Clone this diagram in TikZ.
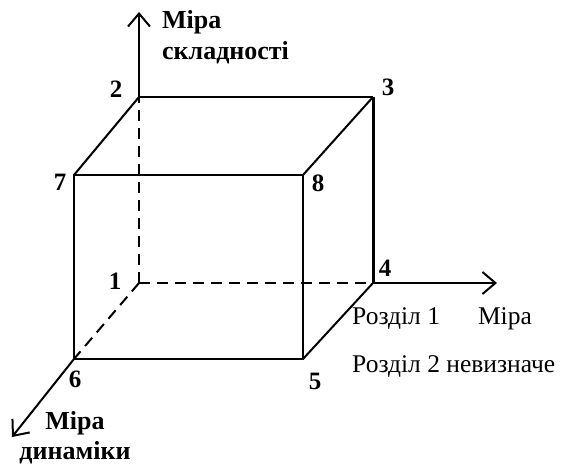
\documentclass[tikz,border=0pt]{standalone}
\usepackage{fontspec}
\setmainfont{Liberation Serif}
\usetikzlibrary{arrows.meta,positioning}

\begin{document}
\begin{tikzpicture}[
x=1pt,y=-1pt,
edge/.style={line width=2pt},
hidden/.style={line width=2pt,dash pattern=on 11pt off 7pt},
axis/.style={line width=2pt,-{Straight Barb[length=13pt,width=22pt,line width=2pt]}},
num/.style={font=\fontsize{25}{28}\selectfont\bfseries,inner sep=0pt},
axlabel/.style={font=\fontsize{26}{31}\selectfont\bfseries,inner sep=0pt},
note/.style={font=\fontsize{25.5}{28}\selectfont,inner sep=0pt,anchor=base west}
]
\useasboundingbox (0,0) rectangle (566,468);
\coordinate (v1) at (139,283);
\coordinate (v2) at (139,97);
\coordinate (v3) at (373,97);
\coordinate (v4) at (373,283);
\coordinate (v5) at (303,359);
\coordinate (v6) at (74,359);
\coordinate (v7) at (74,175);
\coordinate (v8) at (303,175);
\coordinate (tipz) at (139,12);
\coordinate (tipx) at (497,283);
\coordinate (tipy) at (12,437);
\draw[hidden] (v1) -- (v2);
\draw[hidden] (v1) -- (v4);
\draw[hidden] (v1) -- (v6);
\draw[edge] (v2) -- (v3);
\draw[edge,line width=3pt] (v3) -- (v4);
\draw[edge] (v2) -- (v7);
\draw[edge] (v3) -- (v8);
\draw[edge] (v4) -- (v5);
\draw[edge] (v7) -- (v8) -- (v5) -- (v6) -- cycle;
\draw[axis] (v2) -- (tipz);
\draw[axis] (v4) -- (tipx);
\draw[axis] (v6) -- (tipy);
\node[num] (n1) at (115,281) {1};
\node[num] (n2) at (116,89) {2};
\node[num] (n3) at (388,87) {3};
\node[num] (n4) at (385,268) {4};
\node[num] (n5) at (315,381) {5};
\node[num] (n6) at (75,379) {6};
\node[num] (n7) at (60,182) {7};
\node[num] (n8) at (318,183) {8};
\node[axlabel,align=left,anchor=base west] (zlab) at (162,60) {Міра\\складності};
\node[axlabel,align=center,anchor=base] (ylab) at (75,460) {Міра\\динаміки};
\node[note] (sec1) at (352,325) {Розділ 1\hspace{38pt}Міра};
\node[note] (sec2) at (352,373) {Розділ 2 невизначе};
\end{tikzpicture}
\end{document}
